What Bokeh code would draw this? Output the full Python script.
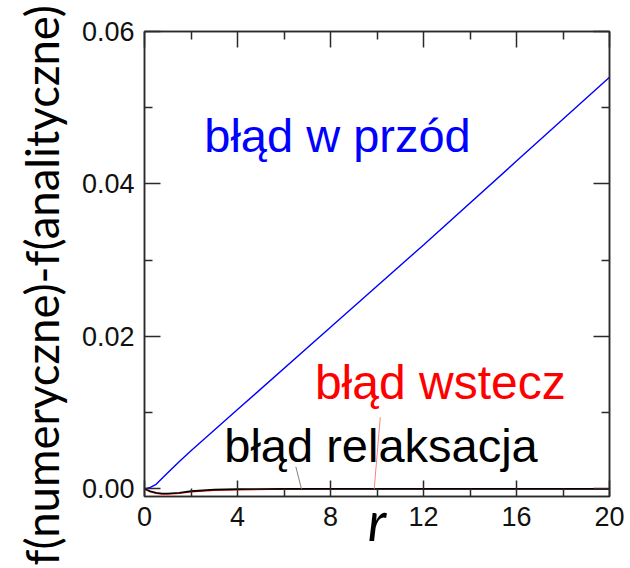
from bokeh.plotting import figure
from bokeh.models import (Range1d, FixedTicker, LinearAxis, Label, Title,
                          CustomJSTickFormatter, NumeralTickFormatter)
from bokeh.embed import file_html
from bokeh.resources import INLINE

# forward-difference error (grows linearly with r)
r_forward = [0, 0.25, 0.5, 1, 1.5, 2, 4, 8, 12, 16, 20]
err_forward = [0.0, 0.0002, 0.0006, 0.0021, 0.0036, 0.0050, 0.0104, 0.0212,
               0.0320, 0.0430, 0.0540]

# backward-difference and relaxation errors (stay close to zero)
r_small = [0, 0.25, 0.5, 0.75, 1, 1.5, 2, 2.5, 3, 4, 6, 8, 12, 16, 20]
err_backward = [0.0, -0.0004, -0.0006, -0.0007, -0.0007, -0.0006, -0.0004,
                -0.0003, -0.0002, -0.00015, -0.00005, 0.0, 0.0, 0.0, 0.0]
err_relax = [0.0, -0.0003, -0.0005, -0.0006, -0.0006, -0.0005, -0.0003,
             -0.0002, -0.0001, -0.00003, 0.0, 0.0, 0.0, 0.0, 0.0]

x_ticks = [0, 4, 8, 12, 16, 20]
x_minor = [2, 6, 10, 14, 18]
y_ticks = [0.0, 0.02, 0.04, 0.06]
y_minor = [0.01, 0.03, 0.05]

AX = "#2a2a2a"
TICK_FONT = "Liberation Sans"

p = figure(width=630, height=568, output_backend="svg", toolbar_location=None,
           x_range=Range1d(0, 20), y_range=Range1d(-0.001, 0.06),
           x_axis_label="r",
           min_border_left=144, min_border_right=21,
           min_border_top=31, min_border_bottom=72)
p.background_fill_color = "white"
p.border_fill_color = "white"
p.outline_line_color = AX
p.outline_line_width = 1.5
p.xgrid.visible = False
p.ygrid.visible = False


def style_axis(ax, font_size="27px"):
    ax.axis_line_color = AX
    ax.axis_line_width = 1.5
    ax.major_tick_line_color = AX
    ax.minor_tick_line_color = AX
    ax.major_tick_line_width = 1.5
    ax.minor_tick_line_width = 1.5
    ax.major_tick_in = 16
    ax.major_tick_out = 0
    ax.minor_tick_in = 8
    ax.minor_tick_out = 0
    ax.major_label_text_font = TICK_FONT
    ax.major_label_text_font_size = font_size
    ax.major_label_text_color = "#111111"


xax = p.xaxis[0]
xax.ticker = FixedTicker(ticks=x_ticks, minor_ticks=x_minor)
style_axis(xax)
xax.major_label_standoff = 10
xax.axis_label_text_font = "Lato"
xax.axis_label_text_font_style = "italic"
xax.axis_label_text_font_size = "54px"
xax.axis_label_text_color = "black"
xax.axis_label_standoff = -41

yax = p.yaxis[0]
yax.ticker = FixedTicker(ticks=y_ticks, minor_ticks=y_minor)
yax.formatter = NumeralTickFormatter(format="0.00")
style_axis(yax)
yax.major_label_standoff = 10

# mirrored tick marks on the top and right edges, no labels
blank = CustomJSTickFormatter(code="return ''")
top = LinearAxis(ticker=FixedTicker(ticks=x_ticks, minor_ticks=x_minor),
                 formatter=blank)
right = LinearAxis(ticker=FixedTicker(ticks=y_ticks, minor_ticks=y_minor),
                   formatter=blank)
for ax in (top, right):
    style_axis(ax, font_size="0px")
    ax.major_label_standoff = 0
p.add_layout(top, "above")
p.add_layout(right, "right")

# vertical axis title, starting a little below the frame's bottom edge
p.add_layout(Title(text="f(numeryczne)-f(analityczne)", align="left",
                   offset=-69, standoff=19, text_font="Lato",
                   text_font_style="normal", text_font_size="45.5px",
                   text_color="black"), "left")

# error curves
p.line(r_small, err_backward, line_color="red", line_width=1.2)
p.line(r_small, err_relax, line_color="black", line_width=1.6)
p.line(r_forward, err_forward, line_color="blue", line_width=1.4)

# leader lines from the captions to their curves
p.segment(x0=[6.51], y0=[0.0029], x1=[6.75], y1=[0.0],
          line_color="#808080", line_width=1)
p.segment(x0=[10.14], y0=[0.0094], x1=[9.88], y1=[0.0],
          line_color="#ff8080", line_width=1)

# curve captions
for txt, x, y, col, size in [("błąd w przód", 2.57, 0.0463, "blue", "47px"),
                             ("błąd wstecz", 7.33, 0.0140, "red", "48px"),
                             ("błąd relaksacja", 3.43, 0.0057, "black", "47px")]:
    p.add_layout(Label(x=x, y=y, text=txt, text_color=col,
                       text_font=TICK_FONT, text_font_size=size,
                       text_baseline="alphabetic", text_align="left"))

open("out.html", "w").write(file_html(p, INLINE))
